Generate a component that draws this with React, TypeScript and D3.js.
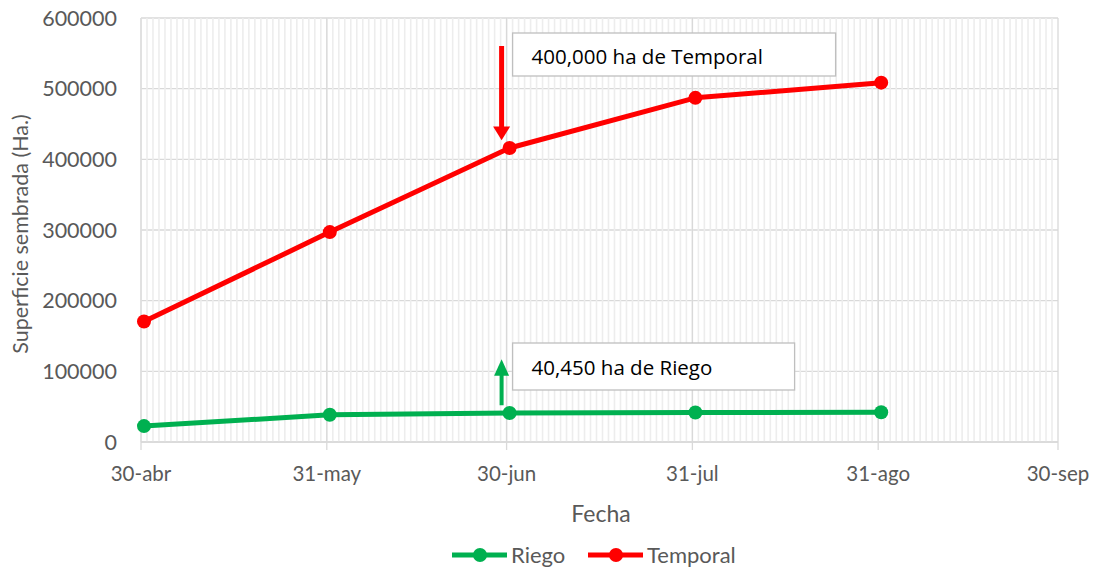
import * as d3 from "d3";

const YEAR = 2020;
const dateLabels = ["30-abr", "31-may", "30-jun", "31-jul", "31-ago", "30-sep"];
const tickDates = [
  new Date(Date.UTC(YEAR, 3, 30)),
  new Date(Date.UTC(YEAR, 4, 31)),
  new Date(Date.UTC(YEAR, 5, 30)),
  new Date(Date.UTC(YEAR, 6, 31)),
  new Date(Date.UTC(YEAR, 7, 31)),
  new Date(Date.UTC(YEAR, 8, 30)),
];
// fechas de los puntos (5 cortes)
const pointDates = tickDates.slice(0, 5);
const riego = [22500, 38500, 41000, 41800, 42000];
const temporal = [170500, 297000, 416000, 487000, 508500];
const yTicks = [0, 100000, 200000, 300000, 400000, 500000, 600000];

const W = 1096;
const H = 567;
const margin = { top: 18, right: 38, bottom: 125, left: 141 };
const font = "Lato, 'Open Sans', sans-serif";
const grey = "#595959";
const RED = "#FF0000";
const GREEN = "#00B050";

export default function App() {
  const innerW = W - margin.left - margin.right;
  const innerH = H - margin.top - margin.bottom;

  const x = d3
    .scaleUtc()
    .domain([tickDates[0], tickDates[tickDates.length - 1]])
    .range([0, innerW]);
  const y = d3.scaleLinear().domain([0, 600000]).range([innerH, 0]);

  const days = d3.utcDay.range(tickDates[0], tickDates[tickDates.length - 1]);
  // Excel centra los puntos en el día
  const px = (d: Date) => x(new Date(d.getTime() + 12 * 3600 * 1000));

  const line = d3
    .line<number>()
    .x((_, i) => px(pointDates[i]))
    .y((d) => y(d));

  const series = [
    { name: "Riego", values: riego, color: GREEN },
    { name: "Temporal", values: temporal, color: RED },
  ];

  const xAnn = px(pointDates[2]) - 8;

  return (
    <svg
      width={W}
      height={H}
      style={{ position: "absolute", left: 0, top: 0, background: "#fff" }}
      fontFamily={font}
    >
      <g transform={`translate(${margin.left},${margin.top})`}>
        {/* horizontal grid */}
        {yTicks.map((t) => (
          <line key={t} x1={0} x2={innerW} y1={y(t)} y2={y(t)} stroke="#d9d9d9" strokeWidth={1.3} />
        ))}
        {/* minor daily grid */}
        {days.map((d, i) => (
          <line
            key={i}
            x1={x(d)}
            x2={x(d)}
            y1={0}
            y2={innerH}
            stroke="#ededed"
            strokeWidth={1.6}
          />
        ))}
        {/* major grid */}
        {tickDates.map((d, i) => (
          <line key={i} x1={x(d)} x2={x(d)} y1={0} y2={innerH + 8} stroke="#d9d9d9" strokeWidth={1.3} />
        ))}
        <line x1={0} x2={innerW} y1={innerH} y2={innerH} stroke="#d9d9d9" strokeWidth={1.3} />

        {/* y labels */}
        {yTicks.map((t) => (
          <text
            key={t}
            x={-24}
            y={y(t)}
            dy="0.35em"
            textAnchor="end"
            fontSize={21.5}
            fill={grey}
          >
            {t}
          </text>
        ))}
        {/* x labels */}
        {tickDates.map((d, i) => (
          <text key={i} x={x(d)} y={innerH + 39} textAnchor="middle" fontSize={20.5} fill={grey}>
            {dateLabels[i]}
          </text>
        ))}

        {/* series */}
        {series.map((s) => (
          <g key={s.name}>
            <path d={line(s.values) || ""} fill="none" stroke={s.color} strokeWidth={5} strokeLinejoin="round" />
            {s.values.map((v, i) => (
              <circle key={i} cx={px(pointDates[i])} cy={y(v)} r={7} fill={s.color} />
            ))}
          </g>
        ))}

        {/* anotación temporal */}
        <line x1={xAnn} x2={xAnn} y1={y(600000) + 28} y2={y(445000)} stroke={RED} strokeWidth={5} />
        <path
          d={`M${xAnn - 8.5},${y(445000) - 1} L${xAnn + 8.5},${y(445000) - 1} L${xAnn},${y(427000)} Z`}
          fill={RED}
        />
        <rect x={xAnn + 11} y={15} width={323} height={43} fill="#fff" stroke="#bfbfbf" strokeWidth={1.3} />
        <text x={xAnn + 30} y={46} fontSize={20.5} fill="#000" fontFamily="'Open Sans', sans-serif">
          400,000 ha de Temporal
        </text>

        {/* anotación riego */}
        <line x1={xAnn} x2={xAnn} y1={y(52000)} y2={y(95000)} stroke={GREEN} strokeWidth={4} />
        <path
          d={`M${xAnn - 7.5},${y(95000) + 1} L${xAnn + 7.5},${y(95000) + 1} L${xAnn},${y(117000)} Z`}
          fill={GREEN}
        />
        <rect x={xAnn + 11} y={325} width={282} height={47} fill="#fff" stroke="#bfbfbf" strokeWidth={1.3} />
        <text x={xAnn + 30} y={357} fontSize={20.5} fill="#000" fontFamily="'Open Sans', sans-serif">
          40,450 ha de Riego
        </text>
      </g>

      {/* títulos */}
      <text x={601} y={522} textAnchor="middle" fontSize={23} fill={grey}>
        Fecha
      </text>
      <text
        transform={`translate(28,${margin.top + innerH / 2 + 4}) rotate(-90)`}
        textAnchor="middle"
        fontSize={21.5}
        fill={grey}
      >
        Superficie sembrada (Ha.)
      </text>

      {/* leyenda */}
      {series.map((s, i) => {
        const lx = i === 0 ? 452 : 588;
        return (
          <g key={s.name}>
            <line x1={lx} x2={lx + 55} y1={555} y2={555} stroke={s.color} strokeWidth={5} />
            <circle cx={lx + 28} cy={555} r={7} fill={s.color} />
            <text x={lx + 59} y={555} dy="0.35em" fontSize={22} fill={grey}>
              {s.name}
            </text>
          </g>
        );
      })}
    </svg>
  );
}
